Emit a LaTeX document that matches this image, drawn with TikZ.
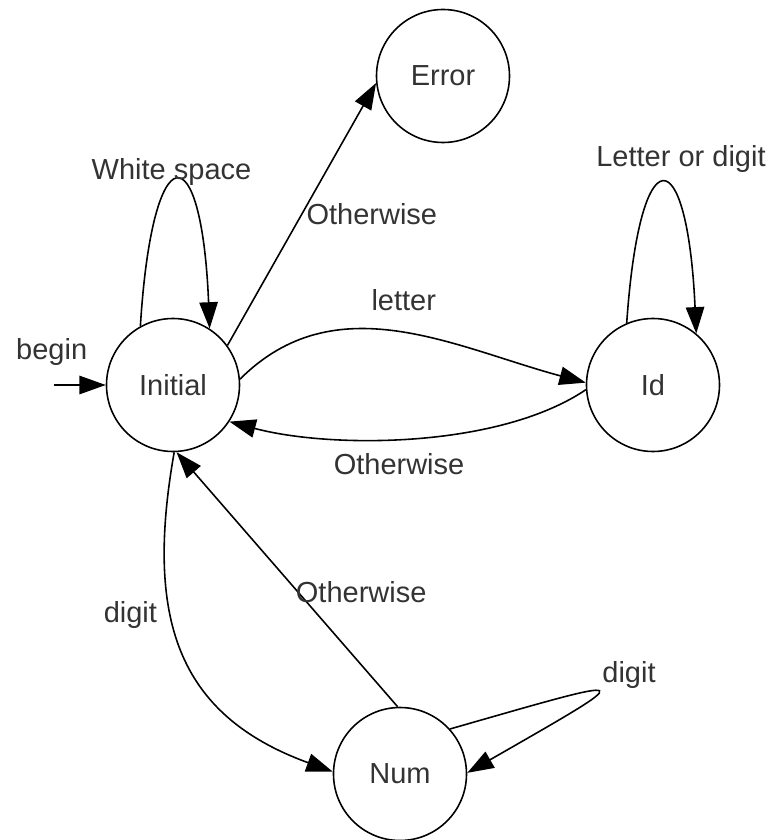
\documentclass[tikz,border=0pt]{standalone}
\usepackage{fontspec}
\setmainfont{Liberation Sans}
\usepackage{tikz}
\usetikzlibrary{arrows.meta}
\usetikzlibrary{automata}
\usetikzlibrary{positioning}

\begin{document}
\begin{tikzpicture}[->,>={Triangle[length=15pt,width=10.5pt]},auto,line width=0.9pt,on grid,
  font=\fontsize{16.5}{20}\selectfont]
\tikzstyle{phase} = [state, minimum size=2.66cm, line width=0.9pt, text=black!80]
\tikzstyle{tag} = [inner sep=0pt, text=black!80]

\useasboundingbox (-3.46,-9.1) rectangle (12.06,7.7);

\node[phase] (INITIAL) {Initial};

\node[phase] (ERROR) [above right=6.18cm and 5.4cm of INITIAL] {Error};

\node[phase] (ID) [right=9.6cm of INITIAL] {Id};

\node[phase] (NUM) [below right=7.78cm and 4.54cm of INITIAL] {Num};

\coordinate (START) at ([xshift=-1.04cm]INITIAL.west);
\node[tag] (BEGIN) at ([shift={(-0.04,0.66)}]START) {begin};

\path[draw] (START) -- (INITIAL);

% self loops
\path[draw] (INITIAL.119) .. controls +(0.24,3.86) and +(-0.16,3.94) .. (INITIAL.57)
   node[pos=0.5,anchor=base,tag,xshift=-0.1cm,yshift=0.04cm] {White space};

\path[draw] (ID.113) .. controls +(0.26,3.78) and +(-0.18,3.92) .. (ID.50)
   node[pos=0.5,anchor=base,tag,xshift=0.36cm,yshift=0.34cm] {Letter or digit};

\path[draw] (NUM.42) .. controls +(3.84,1.1) and +(3.52,2.02) .. (NUM.1)
   node[pos=0.5,anchor=base west,tag,xshift=0.1cm,yshift=0.2cm] {digit};

% transitions
\path[draw] (INITIAL.36) -- (ERROR.186)
   node[pos=0.5,anchor=west,tag,xshift=0.08cm] {Otherwise};

\path[draw] (INITIAL.5) to[out=45,in=165]
   node[pos=0.5,anchor=base,tag,xshift=0.08cm,yshift=0.42cm] {letter} (ID.178);

\path[draw] (ID.184) to[out=214,in=-15,looseness=0.75]
   node[pos=0.5,anchor=base,tag,xshift=-0.28cm,yshift=-0.74cm] {Otherwise} (INITIAL.-33);

\path[draw] (INITIAL.271) to[out=260,in=160,looseness=1.2]
   node[pos=0.4,anchor=base east,tag,xshift=-0.29cm,yshift=-0.07cm] {digit} (NUM.178);

\path[draw] (NUM.92) -- (INITIAL.273)
   node[pos=0.45,anchor=west,tag,xshift=-0.06cm] {Otherwise};
\end{tikzpicture}
\end{document}
